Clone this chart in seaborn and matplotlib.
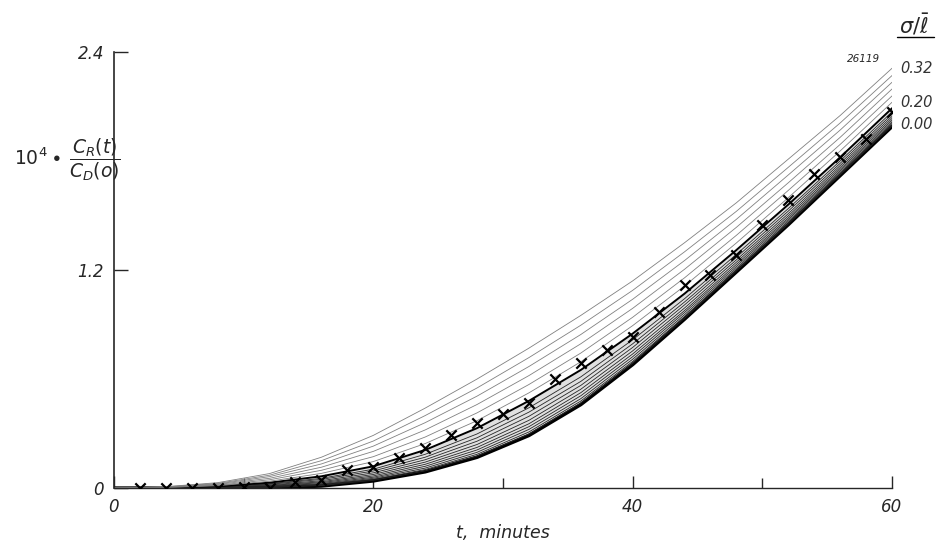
import pandas as pd
import matplotlib.pyplot as plt
from matplotlib.lines import Line2D
from matplotlib.ticker import MultipleLocator
import seaborn as sns

# ------------------------------------------------------------------
# data
# ------------------------------------------------------------------
t_grid = [0, 4, 8, 12, 16, 20, 24, 28, 32, 36, 40, 44, 48, 52, 56, 60]

sigma_labels = ['0.00', '0.02', '0.04', '0.06', '0.08', '0.10', '0.12', '0.14', '0.16',
                '0.18', '0.20', '0.22', '0.24', '0.26', '0.28', '0.30', '0.32']

curves = [
    [0, 0.000, 0.000, 0.002, 0.012, 0.040, 0.090, 0.170, 0.290, 0.460, 0.680, 0.930, 1.190, 1.450, 1.720, 1.990],
    [0, 0.000, 0.000, 0.003, 0.014, 0.043, 0.095, 0.176, 0.297, 0.468, 0.687, 0.935, 1.195, 1.454, 1.724, 1.994],
    [0, 0.000, 0.001, 0.005, 0.017, 0.048, 0.102, 0.186, 0.309, 0.479, 0.697, 0.944, 1.202, 1.461, 1.730, 2.000],
    [0, 0.000, 0.002, 0.007, 0.021, 0.054, 0.110, 0.197, 0.323, 0.492, 0.709, 0.954, 1.210, 1.469, 1.737, 2.007],
    [0, 0.001, 0.003, 0.009, 0.025, 0.060, 0.120, 0.210, 0.338, 0.508, 0.723, 0.966, 1.220, 1.478, 1.745, 2.015],
    [0, 0.001, 0.003, 0.012, 0.030, 0.067, 0.131, 0.224, 0.354, 0.525, 0.738, 0.977, 1.231, 1.487, 1.754, 2.024],
    [0, 0.001, 0.004, 0.014, 0.035, 0.075, 0.143, 0.240, 0.373, 0.544, 0.755, 0.991, 1.243, 1.498, 1.764, 2.034],
    [0, 0.001, 0.006, 0.017, 0.041, 0.084, 0.156, 0.258, 0.395, 0.565, 0.774, 1.008, 1.256, 1.510, 1.775, 2.045],
    [0, 0.001, 0.007, 0.021, 0.048, 0.094, 0.170, 0.277, 0.418, 0.587, 0.794, 1.024, 1.270, 1.524, 1.787, 2.057],
    [0, 0.002, 0.008, 0.024, 0.054, 0.104, 0.186, 0.298, 0.442, 0.612, 0.816, 1.042, 1.286, 1.538, 1.800, 2.070],
    [0, 0.002, 0.010, 0.030, 0.065, 0.120, 0.210, 0.330, 0.480, 0.650, 0.850, 1.070, 1.310, 1.560, 1.820, 2.090],
    [0, 0.003, 0.013, 0.038, 0.081, 0.146, 0.245, 0.371, 0.524, 0.695, 0.894, 1.112, 1.349, 1.598, 1.855, 2.123],
    [0, 0.004, 0.016, 0.046, 0.098, 0.173, 0.281, 0.414, 0.570, 0.743, 0.940, 1.157, 1.391, 1.638, 1.891, 2.158],
    [0, 0.005, 0.020, 0.054, 0.115, 0.202, 0.320, 0.460, 0.619, 0.794, 0.989, 1.204, 1.435, 1.680, 1.930, 2.196],
    [0, 0.006, 0.023, 0.063, 0.133, 0.231, 0.360, 0.506, 0.669, 0.845, 1.039, 1.252, 1.479, 1.723, 1.970, 2.233],
    [0, 0.007, 0.026, 0.071, 0.151, 0.259, 0.399, 0.551, 0.718, 0.896, 1.088, 1.300, 1.523, 1.765, 2.009, 2.270],
    [0, 0.008, 0.030, 0.080, 0.170, 0.290, 0.440, 0.600, 0.770, 0.950, 1.140, 1.350, 1.570, 1.810, 2.050, 2.310],
]

# measured points (x marks)
t_obs = [2, 4, 6, 8, 10, 12, 14, 16, 18, 20, 22, 24, 26, 28, 30,
         32, 34, 36, 38, 40, 42, 44, 46, 48, 50, 52, 54, 56, 58, 60]
y_obs = [0, 0, 0, 0, 0.005, 0, 0.035, 0.045, 0.10, 0.115, 0.165, 0.22, 0.29, 0.36, 0.41,
         0.47, 0.60, 0.69, 0.76, 0.83, 0.97, 1.12, 1.17, 1.28, 1.45, 1.585, 1.73, 1.82, 1.92, 2.07]

labelled = ['0.32', '0.20', '0.00']

# ------------------------------------------------------------------
# long table for seaborn
# ------------------------------------------------------------------
rows = []
for s, vals in zip(sigma_labels, curves):
    for t, v in zip(t_grid, vals):
        rows.append({'t': t, 'y': v, 'sigma': s})
df = pd.DataFrame(rows)

colors = {}
widths = {}
for s in sigma_labels:
    v = float(s)
    if s == '0.00':
        colors[s], widths[s] = 'black', 2.6
    elif s == '0.20':
        colors[s], widths[s] = 'black', 1.4
    elif v < 0.20:
        colors[s], widths[s] = '0.15', 0.6
    else:
        colors[s], widths[s] = '0.5', 0.6

sns.set_style('ticks')
plt.rcParams['font.family'] = ['DejaVu Sans']
plt.rcParams['mathtext.fontset'] = 'dejavusans'

fig = plt.figure(figsize=(9.41, 5.46), dpi=100)
ax = fig.add_axes([0.121, 0.106, 0.827, 0.799])

# light shading between sigma = 0 and sigma = 0.20
ax.fill_between(t_grid, curves[0], curves[10], color='0.88', lw=0)

sns.lineplot(data=df, x='t', y='y', hue='sigma', palette=colors,
             size='sigma', sizes=widths, estimator=None, sort=False,
             legend=False, ax=ax)

sns.scatterplot(x=t_obs, y=y_obs, marker='x', s=55, color='black',
                linewidth=1.6, ax=ax, zorder=5)

ax.set_xlim(0, 60)
ax.set_ylim(0, 2.4)
sns.despine(ax=ax)
ax.spines['left'].set_linewidth(1.2)
ax.spines['bottom'].set_linewidth(1.0)

ax.set_xticks([0, 20, 40, 60])
ax.xaxis.set_minor_locator(MultipleLocator(10))
ax.set_yticks([0, 1.2, 2.4])
ax.set_yticklabels(['0', '1.2', '2.4'])
ax.tick_params(axis='x', which='major', direction='in', length=9, width=1.0,
               pad=7, labelsize=12)
ax.tick_params(axis='x', which='minor', direction='in', length=7, width=1.0)
ax.tick_params(axis='y', direction='in', length=10, width=1.0, pad=7, labelsize=12)
for lab in ax.get_xticklabels() + ax.get_yticklabels():
    lab.set_fontstyle('italic')

ax.set_xlabel('t,  minutes', fontsize=12.5, fontstyle='italic', labelpad=6)
ax.set_ylabel('')

fig.text(0.015, 0.707, r'$\mathregular{10^4}\bullet\,\dfrac{C_R(t)}{C_D(o)}$',
         fontsize=13.5, ha='left', va='center')

# labels at the right end of the curves
label_y = {'0.32': 2.31, '0.20': 2.12, '0.00': 2.0}
for s in labelled:
    ax.text(60.6, label_y[s], s, fontsize=10.5, fontstyle='italic',
            ha='left', va='center', clip_on=False, color='0.2')
ax.text(59.1, 2.36, '26119', fontsize=7.5, fontstyle='italic',
        ha='right', va='center', clip_on=False)

fig.text(0.955, 0.955, r'$\sigma/\bar{\ell}$', fontsize=15, ha='left', va='center')
fig.add_artist(Line2D([0.953, 0.993], [0.932, 0.932], color='black', lw=1.0,
                      transform=fig.transFigure))

fig.savefig('out.png', dpi=100)
